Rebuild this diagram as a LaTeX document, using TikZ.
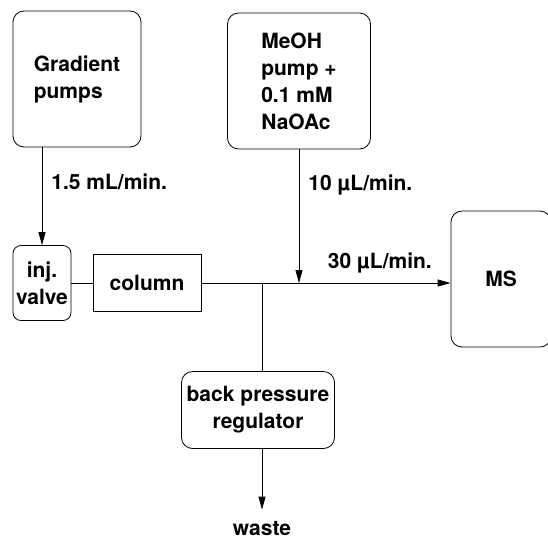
\documentclass[tikz,border=0pt]{standalone}
\usepackage{fontspec}
\setmainfont{TeX Gyre Heros}
\usetikzlibrary{arrows.meta}

\begin{document}
\begin{tikzpicture}[x=1pt, y=-1pt,
    every node/.style={font=\bfseries\fontsize{21}{27}\selectfont},
    box/.style={draw, line width=0.8pt, rounded corners=11pt, align=left, inner sep=2pt},
    lbl/.style={inner sep=2pt},
    pipe/.style={line width=0.8pt},
    flow/.style={pipe, -{Triangle[length=13pt, width=7pt]}}]
    \useasboundingbox (0,0) rectangle (548,539);

    % pumps
    \node[box, minimum width=128pt, minimum height=136pt] (grad) at (77,79) {Gradient\\pumps};
    \node[box, minimum width=143pt, minimum height=136pt] (meoh) at (299,81) {MeOH\\pump +\\0.1 mM\\NaOAc};

    % flow path
    \node[box, rounded corners=8pt, align=center, minimum width=58pt, minimum height=75pt] (inj) at (42,283) {inj.\\valve};
    \node[draw, line width=0.8pt, minimum width=108pt, minimum height=57pt] (col) at (147,283) {column};
    \node[box, minimum width=100pt, minimum height=136pt] (ms) at (501,279) {MS};
    \node[box, align=center, minimum width=153pt, minimum height=77pt] (bpr) at (258,410) {back pressure\\regulator};
    \node[lbl, anchor=base] (waste) at (262,535) {waste};

    \coordinate (tee) at (262,283);
    \coordinate (mix) at (meoh.south |- col.east);

    \draw[flow] (grad.south -| inj.north) -- node[lbl, right=7pt, pos=0.35] {1.5 mL/min.} (inj.north);
    \draw[pipe] (inj.east) -- (col.west);
    \draw[flow] (col.east) -- node[lbl, above=7pt, pos=0.716] {30 µL/min.} (col.east -| ms.west);
    \draw[flow] (meoh.south) -- node[lbl, right=7pt, pos=0.27] {10 µL/min.} (mix);
    \draw[pipe] (tee) -- (tee |- bpr.north);
    \draw[flow, shorten >=9pt] (bpr.south -| waste.north) -- (waste.north);
\end{tikzpicture}
\end{document}
